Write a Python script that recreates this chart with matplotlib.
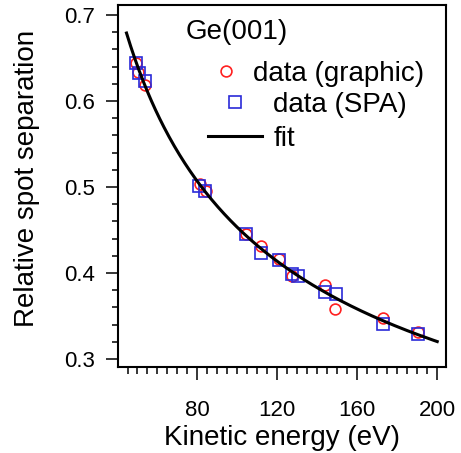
import numpy as np
import matplotlib
matplotlib.use("Agg")
import matplotlib.pyplot as plt
from matplotlib.ticker import FixedLocator, MultipleLocator

# data
energy_graphic = [49.5, 50.5, 53.7, 81.2, 84.2, 104.3, 111.7, 121.0, 127.3, 144.0, 149.0, 172.8, 190.3]
sep_graphic = [0.644, 0.634, 0.619, 0.504, 0.495, 0.445, 0.431, 0.416, 0.396, 0.386, 0.358, 0.348, 0.331]

energy_spa = [49.3, 50.7, 53.7, 81.0, 84.0, 104.3, 111.7, 121.0, 127.3, 130.2, 143.7, 149.2, 172.8, 190.3]
sep_spa = [0.644, 0.633, 0.623, 0.501, 0.495, 0.445, 0.423, 0.415, 0.399, 0.396, 0.378, 0.376, 0.341, 0.329]

x_major = [80, 120, 160, 200]
y_major = [0.3, 0.4, 0.5, 0.6, 0.7]

# fit: s = a / sqrt(E), least squares over both data sets
e_all = np.array(energy_graphic + energy_spa)
s_all = np.array(sep_graphic + sep_spa)
a = np.sum(s_all / np.sqrt(e_all)) / np.sum(1.0 / e_all)
e_fit = np.linspace(44.5, 200, 300)
s_fit = a / np.sqrt(e_fit)

plt.rcParams["font.family"] = ["Liberation Sans", "DejaVu Sans"]

fig = plt.figure(figsize=(4.61, 4.53), dpi=100)
ax = fig.add_axes([0.2549, 0.1898, 0.7126, 0.7991])

h_gr, = ax.plot(energy_graphic, sep_graphic, "o", ms=7.8, mfc="none", mec="#ff2020", mew=1.2)
h_spa, = ax.plot(energy_spa, sep_spa, "s", ms=8.8, mfc="none", mec="#2a2ad8", mew=1.2)
h_fit, = ax.plot(e_fit, s_fit, "-", color="black", lw=2.2)

ax.set_xlim(40, 204.4)
ax.set_ylim(0.2907, 0.7116)
ax.xaxis.set_major_locator(FixedLocator(x_major))
ax.xaxis.set_minor_locator(FixedLocator(np.arange(45, 205, 5)))
ax.yaxis.set_major_locator(FixedLocator(y_major))
ax.yaxis.set_minor_locator(MultipleLocator(0.02))
ax.set_xticklabels([str(v) for v in x_major])
ax.set_yticklabels(["%.1f" % v for v in y_major])

ax.tick_params(axis="x", which="major", direction="out", length=9.5, width=1.1, labelsize=16, pad=14)
ax.tick_params(axis="x", which="minor", direction="out", length=5, width=1.1)
ax.tick_params(axis="y", which="major", direction="out", length=8.5, width=1.1, labelsize=16, pad=8)
ax.tick_params(axis="y", which="minor", direction="out", length=4.5, width=1.1)
for sp in ax.spines.values():
    sp.set_linewidth(1.5)

ax.set_xlabel("Kinetic energy (eV)", fontsize=20, labelpad=3)
ax.set_ylabel("Relative spot separation", fontsize=20)
ax.yaxis.set_label_coords(-0.237, 0.52)

ax.text(0.2085, 0.925, "Ge(001)", transform=ax.transAxes, fontsize=20,
        ha="left", va="center")
leg1 = ax.legend([h_gr], ["data (graphic)"], loc="upper left", bbox_to_anchor=(0.2877, 0.845),
                 borderaxespad=0, borderpad=0, frameon=False, fontsize=20,
                 handlelength=1.0, handletextpad=0.47)
ax.add_artist(leg1)
ax.legend([h_spa, h_fit], ["data (SPA)", "fit"], loc="upper left", bbox_to_anchor=(0.2755, 0.76),
          borderaxespad=0, borderpad=0, frameon=False, fontsize=20, handlelength=1.95,
          handletextpad=0.4, labelspacing=0.28)

fig.savefig("out.png", dpi=100)
